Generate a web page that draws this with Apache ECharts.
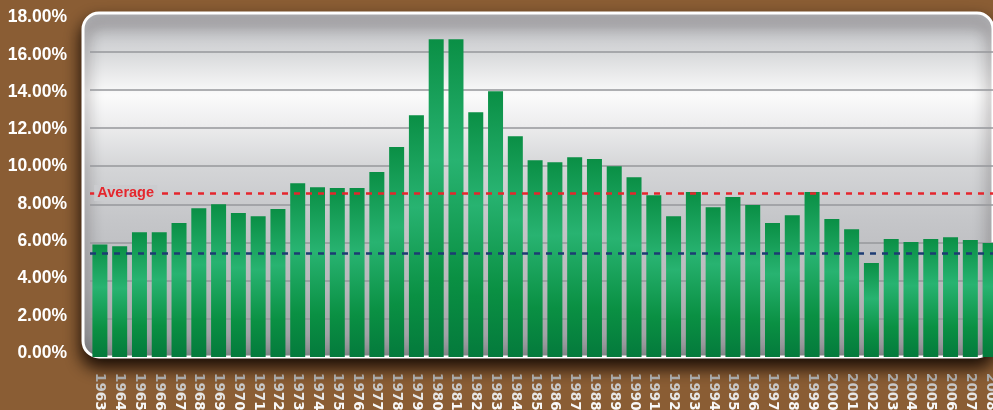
<!DOCTYPE html>
<html>
<head>
<meta charset="utf-8">
<script src="https://cdn.jsdelivr.net/npm/echarts@6/dist/echarts.min.js"></script>
<style>
html,body{margin:0;padding:0;background:#8a5d34;}
#c{width:993px;height:410px;}
</style>
</head>
<body>
<div id="c"></div>
<script>
const years = ['1963','1964','1965','1966','1967','1968','1969','1970','1971','1972',
  '1973','1974','1975','1976','1977','1978','1979','1980','1981','1982',
  '1983','1984','1985','1986','1987','1988','1989','1990','1991','1992',
  '1993','1994','1995','1996','1997','1998','1999','2000','2001','2002',
  '2003','2004','2005','2006','2007','2008'];
const rates = [5.90,5.81,6.54,6.54,7.02,7.80,8.01,7.54,7.38,7.75,
  9.11,8.90,8.85,8.85,9.69,11.00,12.67,16.65,16.65,12.83,
  13.93,11.57,10.31,10.21,10.47,10.37,10.00,9.42,8.48,7.38,
  8.64,7.85,8.38,7.96,7.02,7.43,8.64,7.23,6.70,4.92,
  6.18,6.02,6.18,6.28,6.13,5.97];
const averageLine = [8.59];
const lowerLine = [5.43];
const averageLabel = ['Average'];
const yTicks = [0,2,4,6,8,10,12,14,16,18];

const chart = echarts.init(document.getElementById('c'));
const barGrad = new echarts.graphic.LinearGradient(0,0,0,1,[
  {offset:0,color:'#0a8f45'},
  {offset:0.38,color:'#28b371'},
  {offset:0.75,color:'#0a9043'},
  {offset:1,color:'#047a3c'}
]);
const panelGrad = new echarts.graphic.LinearGradient(0,0,0,1,[
  {offset:0,color:'#b8b9bd'},
  {offset:0.12,color:'#d8d9db'},
  {offset:0.24,color:'#fbfbfb'},
  {offset:0.32,color:'#eeeeef'},
  {offset:0.45,color:'#d4d5d7'},
  {offset:0.6,color:'#c5c6c9'},
  {offset:0.8,color:'#b7b8bb'},
  {offset:0.93,color:'#a2a3a7'},
  {offset:1,color:'#86878b'}
]);
const splitColors = yTicks.map((v,i)=> (i===0||i===yTicks.length-1)?'rgba(0,0,0,0)':'#96979b');
const xl = {fontFamily:'DejaVu Sans',fontWeight:'bold',fontSize:13.5};
const yFont = {color:'#ffffff', fontFamily:'"Liberation Sans",Arial,sans-serif', fontWeight:'bold', fontSize:17.5};
const yRich = {};
yTicks.forEach((v)=>{
  const s = 8*v/18 - 4;
  yRich['s'+v] = Object.assign({padding: s>=0 ? [2*s,0,0,0] : [0,0,-2*s,0]}, yFont);
});

chart.setOption({
  backgroundColor:'#8a5d34',
  animation:false,
  graphic:[{
    type:'rect', z:-10, silent:true,
    shape:{x:83,y:13,width:910,height:344,r:16},
    style:{fill:panelGrad, stroke:'#ffffff', lineWidth:3,
      shadowBlur:16, shadowOffsetY:9, shadowColor:'rgba(15,6,0,0.95)'}
  }],
  grid:{left:90,right:-7,top:13.5,bottom:53,containLabel:false,outerBoundsMode:'none'},
  xAxis:{
    type:'category', data:years,
    axisLine:{show:false}, axisTick:{show:false},
    axisLabel:{
      interval:0, rotate:-90, margin:16,
      formatter:(v)=>v.split('').map((c,i)=>'{c'+i+'|'+c+'}').join(''),
      rich:{
        c0:Object.assign({color:'#a9a9a9'},xl),
        c1:Object.assign({color:'#c8c8c8'},xl),
        c2:Object.assign({color:'#e6e6e6'},xl),
        c3:Object.assign({color:'#f8f8f8'},xl)
      }
    }
  },
  yAxis:{
    type:'value', min:0, max:18, interval:2,
    axisLine:{show:false}, axisTick:{show:false},
    axisLabel:Object.assign({
      margin:23,
      formatter:(v)=>'{s'+v+'|'+v.toFixed(2)+'%}',
      rich:yRich
    }, yFont),
    splitLine:{show:true, lineStyle:{color:splitColors, width:1.6}}
  },
  series:[{
    type:'bar', data:rates, barWidth:15,
    itemStyle:{color:barGrad},
    markLine:{
      silent:true, symbol:'none', z:5,
      label:{show:false},
      data:[
        {yAxis:averageLine[0], lineStyle:{color:'#e5262d',type:[6,6],width:2.5}},
        {yAxis:lowerLine[0], lineStyle:{color:'#1d3c73',type:[6,6],width:2.5}}
      ]
    },
    markPoint:{
      silent:true, z:6,
      data:[{
        coord:[1, averageLine[0]], symbol:'rect', symbolSize:[63,16], symbolOffset:[6,0],
        itemStyle:{color:'#cbcccf'},
        label:{show:true, position:'inside', formatter:averageLabel[0], color:'#e5262d',
          fontFamily:'"Liberation Sans",Arial,sans-serif',
          fontWeight:'bold', fontSize:14.5}
      }]
    }
  }]
});
</script>
</body>
</html>
